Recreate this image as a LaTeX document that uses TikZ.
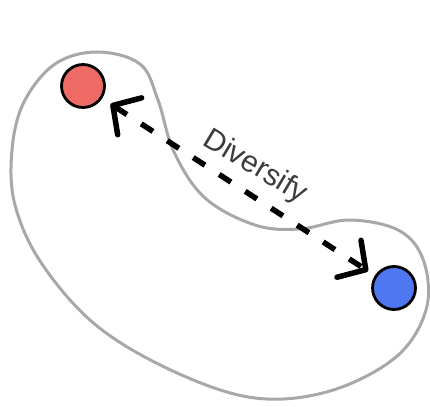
\documentclass[tikz,border=0pt]{standalone}
\usepackage{fontspec}
\setmainfont{Liberation Sans}
\usetikzlibrary{arrows.meta}
\definecolor{blobgray}{HTML}{A8A8A8}
\definecolor{dotred}{HTML}{EE6A64}
\definecolor{dotblue}{HTML}{4F78F0}
\definecolor{txtgray}{HTML}{3C3C3C}
\begin{document}
\begin{tikzpicture}[x=1pt,y=-1pt,
  dot/.style={circle,draw=black,line width=2.8pt,minimum size=43pt,inner sep=0pt},
  blob/.style={draw=blobgray,line width=3pt},
  barb/.tip={Straight Barb[length=20pt,width=44pt,line cap=round,line join=round]},
  link/.style={line width=5.5pt,dash pattern=on 14pt off 17pt,barb-barb,
    shorten <=10pt, shorten >=8pt},
  lbl/.style={text=txtgray,font=\fontsize{30}{32}\selectfont,inner sep=0pt}]
\useasboundingbox (0,0) rectangle (430,406);
\draw[blob] plot[smooth cycle,tension=0.6] coordinates {
  (12,150) (24,102) (55,64) (97,52) (140,64) (158,100) (174,152) (205,198)
  (255,225) (300,229) (350,220) (400,231) (424,262) (426,310) (396,357)
  (330,391) (255,398) (175,372) (97,326) (42,264) (15,205)};
\node[dot,fill=dotred] (red) at (83,86) {};
\node[dot,fill=dotblue] (blue) at (394,288) {};
\draw[link] (red) -- (blue);
\node[lbl,rotate=-31] (div) at (255,167) {Diversify};
\end{tikzpicture}
\end{document}
